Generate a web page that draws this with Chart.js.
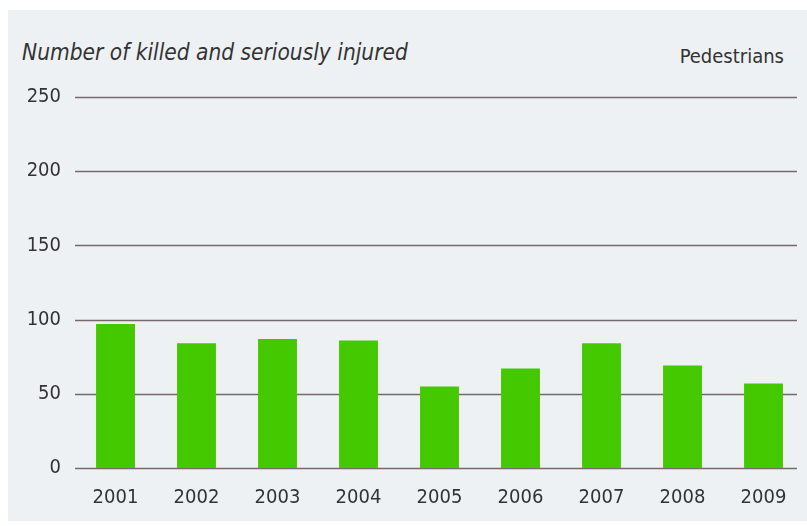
<!DOCTYPE html>
<html>
<head>
<meta charset="utf-8">
<script src="https://cdn.jsdelivr.net/npm/chart.js@4"></script>
<style>
    html, body { margin: 0; padding: 0; background: #fff; }
    body { width: 807px; height: 526px; position: relative; overflow: hidden; }
    .PANEL { position: absolute; left: 8px; top: 10px; width: 799px; height: 511px; background: #eef1f4; }
    .HEADER { position: absolute; font-family: "DejaVu Sans Condensed", "DejaVu Sans", sans-serif; color: #333; white-space: nowrap; line-height: 1; }
    .TITLE { left: 22px; top: 41px; font-style: italic; font-size: 22.5px; }
    .SERIES-NAME { right: 23px; top: 46px; font-size: 20px; }
    canvas { position: absolute; left: 0; top: 0; }
</style>
</head>
<body>
<div class="PANEL"></div>
<div class="HEADER TITLE">Number of killed and seriously injured</div>
<div class="HEADER SERIES-NAME">Pedestrians</div>
<canvas id="ksiChart" width="807" height="526"></canvas>
<script>
const years = ['2001', '2002', '2003', '2004', '2005', '2006', '2007', '2008', '2009'];
const killedSeriouslyInjured = [97, 84, 87, 86, 55, 67, 84, 69, 57];
const yTicks = [0, 50, 100, 150, 200, 250];

const barGreen = '#44c800';
const gridColour = '#75696a';
const labelFont = { family: '"DejaVu Sans Condensed", "DejaVu Sans", sans-serif', size: 20 };

// Horizontal rules stop a little short of the plot's right edge
const gridRules = {
    id: 'gridRules',
    beforeDatasetsDraw(chart) {
        const { ctx, chartArea, scales } = chart;
        ctx.save();
        ctx.strokeStyle = gridColour;
        ctx.lineWidth = 1.5;
        yTicks.forEach(v => {
            const y = Math.round(scales.y.getPixelForValue(v)) + 0.5;
            ctx.beginPath();
            ctx.moveTo(chartArea.left, y);
            ctx.lineTo(chartArea.right - 7, y);
            ctx.stroke();
        });
        ctx.restore();
    }
};

const config = {
    type: 'bar',
    data: {
        labels: years,
        datasets: [{
            data: killedSeriouslyInjured,
            backgroundColor: barGreen,
            categoryPercentage: 1,
            barPercentage: 0.48,
        }]
    },
    options: {
        responsive: false,
        animation: false,
        layout: { padding: { top: 97, right: 3, bottom: 18, left: 0 } },
        plugins: { legend: { display: false }, tooltip: { enabled: false } },
        scales: {
            x: {
                grid: { display: false, drawTicks: false },
                border: { display: false },
                ticks: { color: '#333', font: labelFont, padding: 18, maxRotation: 0 },
                afterFit: scale => { scale.height = 40; }
            },
            y: {
                min: 0,
                max: 250,
                grid: { display: false, drawTicks: false },
                border: { display: false },
                ticks: {
                    stepSize: 50,
                    color: '#333',
                    font: labelFont,
                    padding: 14,
                },
                afterBuildTicks: scale => { scale.ticks = yTicks.map(v => ({ value: v })); },
                afterFit: scale => { scale.width = 75; }
            }
        }
    },
    plugins: [gridRules]
};

new Chart(document.getElementById('ksiChart'), config);
</script>
</body>
</html>
